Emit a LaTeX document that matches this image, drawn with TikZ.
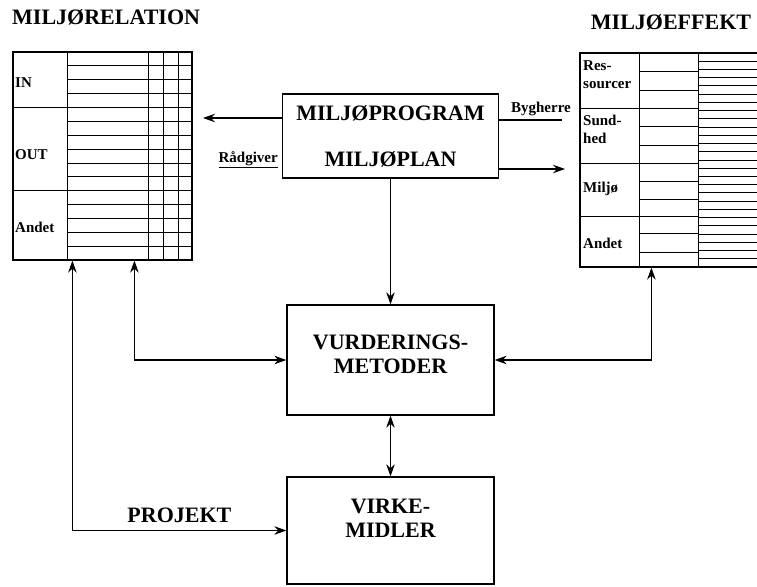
\documentclass[tikz,border=0pt]{standalone}
\usepackage{fontspec}
\setmainfont{Liberation Serif}
\usetikzlibrary{positioning,arrows.meta}
\newcommand{\boxfont}{\fontsize{22}{24}\selectfont\bfseries}
\newcommand{\cellfont}{\fontsize{15}{18}\selectfont\bfseries}

\begin{document}
\begin{tikzpicture}[x=1pt, y=-1pt,
  box/.style={draw, line width=1.3pt, align=center, font=\boxfont},
  tbl/.style={draw, line width=1.2pt, inner sep=0pt},
  grid/.style={line width=0.9pt},
  cell/.style={font=\cellfont, align=left, inner sep=1pt},
  title/.style={font=\boxfont, inner sep=0pt},
  arr/.style={-{Stealth[length=12pt,width=8.5pt]}, line width=1.2pt},
  dbl/.style={{Stealth[length=12pt,width=8.5pt]}-{Stealth[length=12pt,width=8.5pt]}, line width=1.2pt}]
\useasboundingbox (0,0) rectangle (757,586);
\clip (0,0) rectangle (757,586);

% titles
\node[title, anchor=west] (reltitle) at (12,17) {MILJØRELATION};
\node[title] (efftitle) at (671,22) {MILJØEFFEKT};

% left table
\node[tbl, minimum width=179pt, minimum height=208pt] (rel) at (102.5,156) {};
\foreach \x in {67,148,163,178}
  \draw[grid] (\x,52) -- (\x,260);
\foreach \i in {1,...,14}
  \draw[grid] (67,{52+\i*13.87}) -- (192,{52+\i*13.87});
\foreach \i in {4,10}
  \draw[grid] (13,{52+\i*13.87}) -- (67,{52+\i*13.87});
\node[cell, anchor=west] (in) at (14,83) {IN};
\node[cell, anchor=west] (out) at (14,155) {OUT};
\node[cell, anchor=west] (andetL) at (14,227) {Andet};

% right table
\node[tbl, minimum width=190pt, minimum height=214pt] (eff) at (675,160) {};
\foreach \x in {639,698}
  \draw[grid] (\x,53) -- (\x,267);
\foreach \y in {108,163,216}
  \draw[grid] (580,\y) -- (698,\y);
\foreach \y in {71,90,126,145,181,199,233,252}
  \draw[grid] (639,\y) -- (698,\y);
\foreach \i in {1,...,25}
  \draw[grid] (698,{53+\i*8.23}) -- (760,{53+\i*8.23});
\node[cell, anchor=west] (res) at (582,75) {Res-\\sourcer};
\node[cell, anchor=west] (sund) at (582,129) {Sund-\\hed};
\node[cell, anchor=west] (miljo) at (582,189) {Miljø};
\node[cell, anchor=west] (andetR) at (582,243) {Andet};

% boxes
\node[box, minimum width=216pt, minimum height=84pt] (prog) at (390.5,136) {MILJØPROGRAM\\[22pt]MILJØPLAN};
\node[box, minimum width=207pt, minimum height=110pt, text depth=12pt] (vurd) at (390.5,360) {VURDERINGS-\\METODER};
\node[box, minimum width=207pt, minimum height=107pt, text depth=25pt] (virke) at (390.5,530.5) {VIRKE-\\MIDLER};

% actors
\node[cell, anchor=base east] (radg) at (279,162) {\underline{Rådgiver}};
\node[cell, anchor=base] (bygh) at (541,112) {Bygherre};
\coordinate (tipL) at (203,118);
\coordinate (bygend) at (562,120);
\coordinate (tipR) at (565,169);

% connectors
\draw[arr] (prog.west |- tipL) -- (tipL);
\draw[line width=1.2pt] (prog.east |- bygend) -- (bygend);
\draw[arr] (prog.east |- tipR) -- (tipR);
\draw[arr] (prog) -- (vurd);
\draw[dbl] ([xshift=122pt]rel.south west) |- (vurd.west);
\draw[dbl] ([xshift=72pt]eff.south west) |- (vurd.east);
\draw[dbl] (vurd) -- (virke);
\draw[dbl] ([xshift=60pt]rel.south west) |- (virke.west)
  node[pos=0.75, above=4pt, font=\boxfont] (proj) {PROJEKT};
\end{tikzpicture}
\end{document}
